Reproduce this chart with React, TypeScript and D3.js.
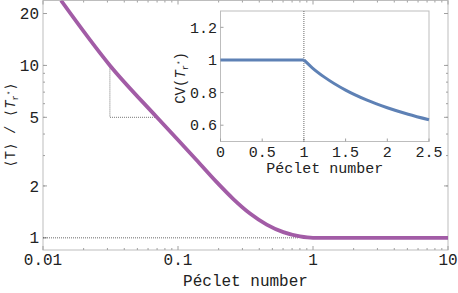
import * as d3 from 'd3';

// main curve (log-log)
const mainPe = [0.0136, 0.0313, 0.0695, 0.1376, 0.1935, 0.257, 0.3415, 0.454, 0.6026, 0.8, 1, 10];
const mainRatio = [23.8, 10, 5.02, 2.82, 2.104, 1.679, 1.384, 1.194, 1.079, 1.019, 1, 1];

// inset curve (linear axes)
const insetPe = [0, 1, 1.1, 1.25, 1.5, 1.75, 2, 2.25, 2.5];
const insetCV = [1, 1, 0.952, 0.893, 0.815, 0.755, 0.707, 0.667, 0.633];

const mainXTicks = [0.01, 0.1, 1, 10];
const mainXTickLabels = ['0.01', '0.1', '1', '10'];
const mainYTicks = [1, 2, 5, 10, 20];
const insetXTicks = [0, 0.5, 1, 1.5, 2, 2.5];
const insetYTicks = [0.6, 0.8, 1, 1.2];

// slope guide (dotted)
const slopePe = [0.0313, 0.0313, 0.0695];
const slopeRatio = [10, 5, 5];

const W = 458;
const H = 293;
const mono = '"Liberation Mono", "DejaVu Sans Mono", monospace';
const frameColor = '#bdbdbd';
const tickColor = '#a0a0a0';

export default function App() {
  const x = d3.scaleLog().domain([0.01, 10]).range([43, 448]);
  const y = d3.scaleLog().domain([0.85, 23.8]).range([250, 0.5]);

  const ix = d3.scaleLinear().domain([0, 2.5]).range([220.5, 429]);
  const iy = d3.scaleLinear().domain([0.5, 1.3]).range([141.5, 11]);

  const mainPts: [number, number][] = mainPe.map((p, i) => [x(p), y(mainRatio[i])]);
  const mainPath = d3.line().curve(d3.curveMonotoneX)(mainPts) || '';

  const flatPts: [number, number][] = [];
  const dropPts: [number, number][] = [];
  insetPe.forEach((p, i) => {
    if (p <= 1) flatPts.push([ix(p), iy(insetCV[i])]);
    if (p >= 1) dropPts.push([ix(p), iy(insetCV[i])]);
  });
  const flatPath = d3.line()(flatPts) || '';
  const dropPath = d3.line().curve(d3.curveMonotoneX)(dropPts) || '';

  const slopePath = d3.line()(slopePe.map((p, i) => [x(p), y(slopeRatio[i])] as [number, number])) || '';

  // minor ticks for log axes
  const minorX: number[] = [];
  [0.01, 0.1, 1].forEach(d => { for (let k = 2; k <= 9; k++) minorX.push(d * k); });
  const minorY: number[] = [];
  [1, 10].forEach(d => { for (let k = 1; k <= 9; k++) { const v = d * k; if (v >= 0.9 && v <= 23) minorY.push(v); } });

  const [x0, x1] = x.range();
  const [y0, y1] = y.range();

  return (
    <svg width={W} height={H} style={{ position: 'absolute', left: 0, top: 0, background: '#fff' }}>
      <defs>
        <clipPath id="mainClip">
          <rect x={x0} y={y1} width={x1 - x0} height={y0 - y1} />
        </clipPath>
      </defs>

      {/* main frame */}
      <rect x={x0} y={y1} width={x1 - x0} height={y0 - y1} fill="none" stroke={frameColor} strokeWidth={1} />

      {/* main ticks */}
      {mainXTicks.map(t => (
        <g key={'mx' + t}>
          <line x1={x(t)} x2={x(t)} y1={y0} y2={y0 - 4} stroke={tickColor} />
          <line x1={x(t)} x2={x(t)} y1={y1} y2={y1 + 4} stroke={tickColor} />
        </g>
      ))}
      {minorX.map(t => (
        <g key={'mmx' + t}>
          <line x1={x(t)} x2={x(t)} y1={y0} y2={y0 - 2} stroke={tickColor} />
          <line x1={x(t)} x2={x(t)} y1={y1} y2={y1 + 2} stroke={tickColor} />
        </g>
      ))}
      {mainYTicks.map(t => (
        <g key={'my' + t}>
          <line x1={x0} x2={x0 + 4} y1={y(t)} y2={y(t)} stroke={tickColor} />
          <line x1={x1} x2={x1 - 4} y1={y(t)} y2={y(t)} stroke={tickColor} />
        </g>
      ))}
      {minorY.map(t => (
        <g key={'mmy' + t}>
          <line x1={x0} x2={x0 + 2} y1={y(t)} y2={y(t)} stroke={tickColor} />
          <line x1={x1} x2={x1 - 2} y1={y(t)} y2={y(t)} stroke={tickColor} />
        </g>
      ))}

      {/* main tick labels */}
      {mainXTicks.map((t, i) => (
        <text key={'mxl' + t} x={x(t)} y={265} textAnchor="middle" fontFamily={mono} fontSize={16} fill="#222">
          {mainXTickLabels[i]}
        </text>
      ))}
      {mainYTicks.map(t => (
        <text key={'myl' + t} x={39} y={y(t)} dy="0.35em" textAnchor="end" fontFamily={mono} fontSize={16} fill="#222">
          {t}
        </text>
      ))}

      {/* dotted guides */}
      <line x1={x0} x2={x(0.78)} y1={y(1)} y2={y(1)} stroke="#444" strokeWidth={0.8} strokeDasharray="1,1" />
      <path d={slopePath} fill="none" stroke="#555" strokeWidth={0.8} strokeDasharray="1,1" />

      {/* main curve */}
      <path d={mainPath} fill="none" stroke="#a25ca6" strokeWidth={3.8} clipPath="url(#mainClip)" />

      {/* axis titles */}
      <text x={245.5} y={286} textAnchor="middle" fontFamily={mono} fontSize={16} fill="#222">Péclet number</text>
      <text transform="translate(15,125) rotate(-90)" textAnchor="middle" fontFamily={mono} fontSize={14} fill="#222">
        ⟨T⟩ / ⟨<tspan fontStyle="italic">T</tspan>
        <tspan fontSize={9} dy={3}>r</tspan>
        <tspan fontSize={7} dy={-6}>*</tspan>
        <tspan dy={3}>⟩</tspan>
      </text>

      {/* inset */}
      <rect x={ix.range()[0]} y={iy.range()[1]} width={ix.range()[1] - ix.range()[0]} height={iy.range()[0] - iy.range()[1]}
        fill="#fff" stroke={frameColor} strokeWidth={1} />
      {insetXTicks.map(t => (
        <g key={'ixt' + t}>
          <line x1={ix(t)} x2={ix(t)} y1={iy.range()[0]} y2={iy.range()[0] - 3} stroke={tickColor} />
          <text x={ix(t)} y={157} textAnchor="middle" fontFamily={mono} fontSize={15} fill="#222">{t}</text>
        </g>
      ))}
      {insetYTicks.map(t => (
        <g key={'iyt' + t}>
          <line x1={ix.range()[0]} x2={ix.range()[0] + 3} y1={iy(t)} y2={iy(t)} stroke={tickColor} />
          <text x={217} y={iy(t)} dy="0.35em" textAnchor="end" fontFamily={mono} fontSize={15} fill="#222">{t}</text>
        </g>
      ))}
      <line x1={ix(1)} x2={ix(1)} y1={iy.range()[1]} y2={iy.range()[0]} stroke="#444" strokeWidth={0.8} strokeDasharray="1,1" />
      <path d={flatPath} fill="none" stroke="#5e81b5" strokeWidth={3} />
      <path d={dropPath} fill="none" stroke="#5e81b5" strokeWidth={3} />
      <text x={(ix.range()[0] + ix.range()[1]) / 2} y={173} textAnchor="middle" fontFamily={mono} fontSize={15} fill="#222">Péclet number</text>
      <text transform="translate(185,78) rotate(-90)" textAnchor="middle" fontFamily={mono} fontSize={14} fill="#222">
        CV(<tspan fontStyle="italic">T</tspan>
        <tspan fontSize={9} dy={3}>r</tspan>
        <tspan fontSize={7} dy={-6}>*</tspan>
        <tspan dy={3}>)</tspan>
      </text>
    </svg>
  );
}
